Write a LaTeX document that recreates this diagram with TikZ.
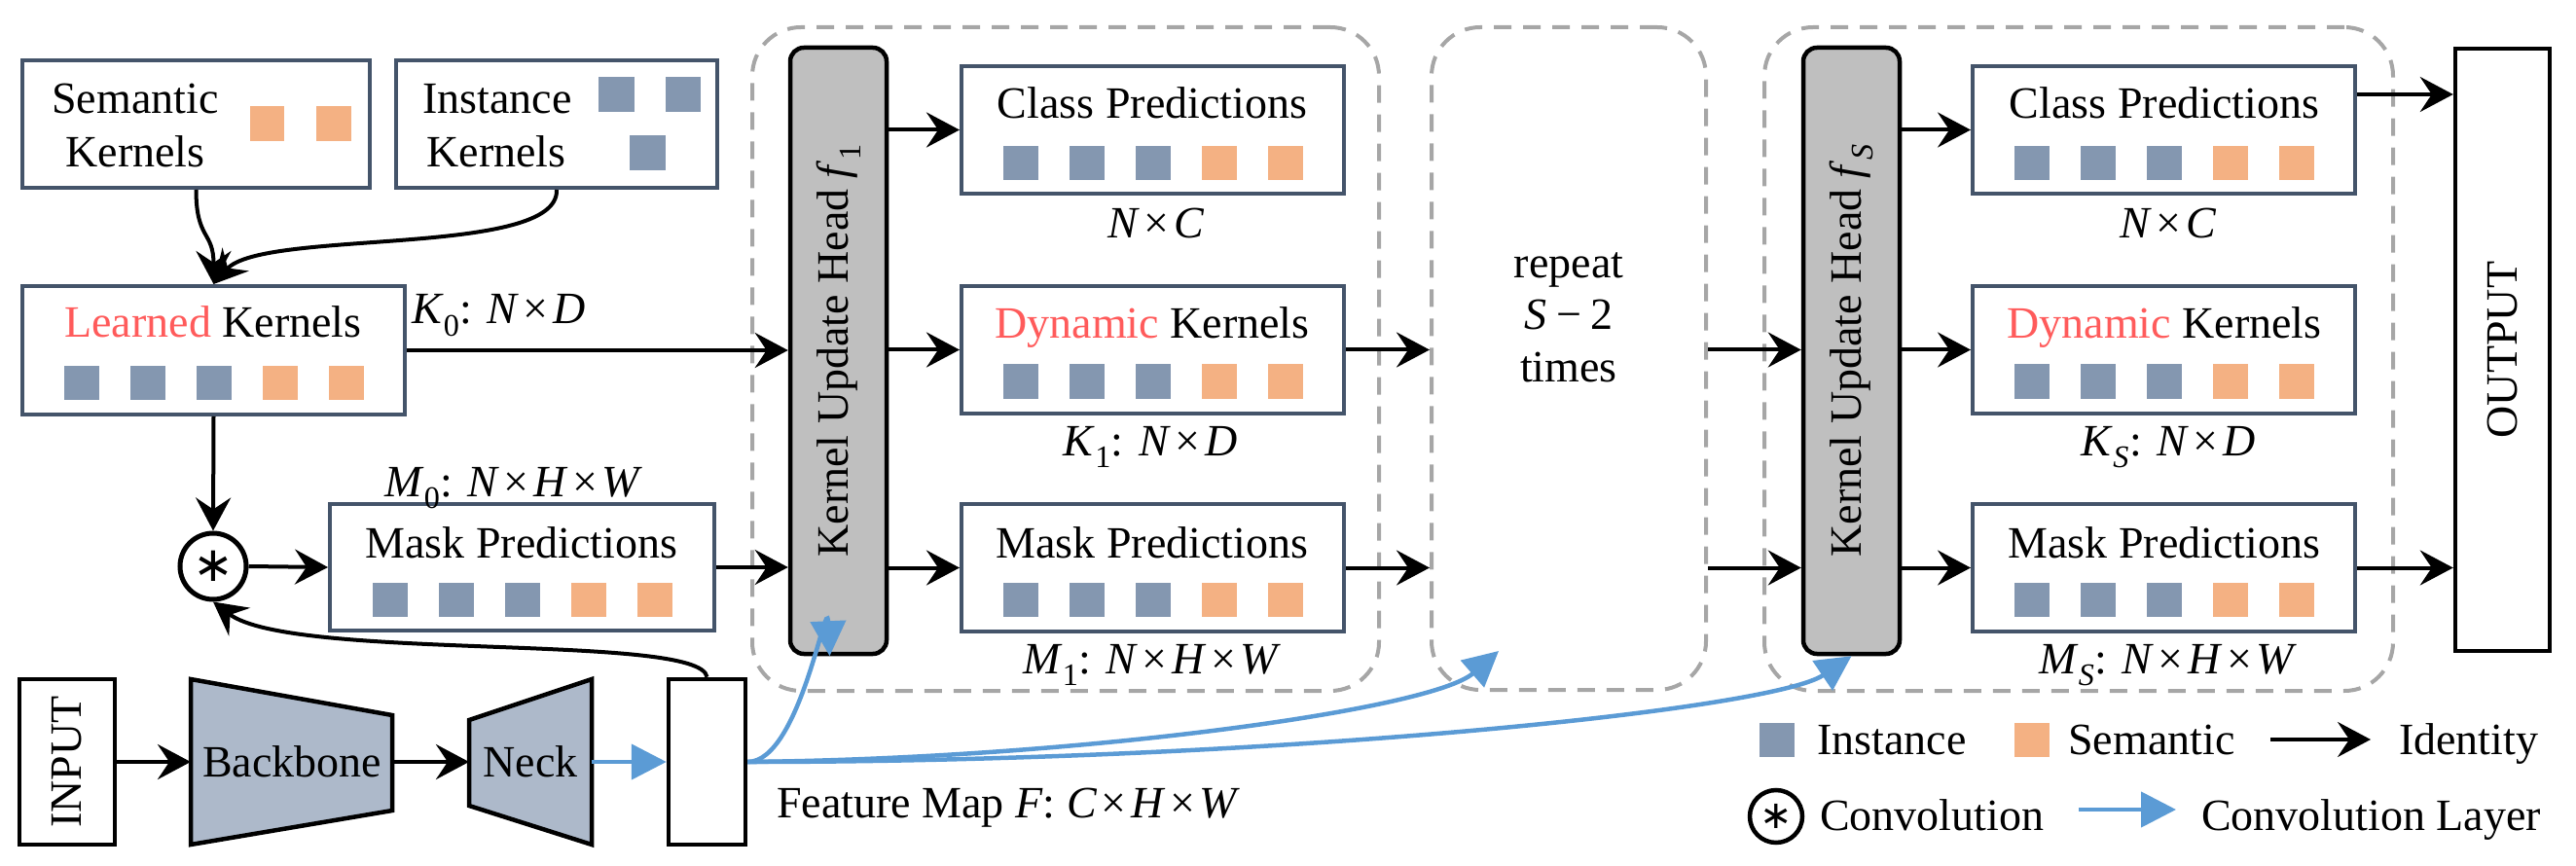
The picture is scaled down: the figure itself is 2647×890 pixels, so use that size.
\documentclass[tikz,border=0pt]{standalone}
\usepackage{fontspec}
\setmainfont{Liberation Serif}
\newfontfamily\djv{DejaVu Sans}
\usetikzlibrary{arrows.meta}
\definecolor{cslate}{HTML}{44546A}
\definecolor{cins}{HTML}{8497B0}
\definecolor{csem}{HTML}{F4B183}
\definecolor{cbb}{HTML}{ADB9CA}
\definecolor{chead}{HTML}{BFBFBF}
\definecolor{cdash}{HTML}{A6A6A6}
\definecolor{cblue}{HTML}{5B9BD5}
\definecolor{cred}{HTML}{FF5B5B}
\newcommand\fs{\fontsize{46}{55}\selectfont}
\newcommand\vi[1]{\textit{#1}}
\newcommand\tms{\hspace{0.1em}×\hspace{0.1em}}
\newcommand\fivesq[2]{\foreach \dx/\cc in {-136/cins,-68/cins,0/cins,68/csem,136/csem}{\fill[\cc] ({#1+\dx-18},{#2-17.5}) rectangle ++(36,35);}}
\begin{document}
\begin{tikzpicture}[x=1pt,y=-1pt,font=\fs,
  kb/.style={draw=cslate,line width=4pt,minimum width=393pt,minimum height=131pt,inner sep=0pt},
  hd/.style={draw=black,fill=chead,line width=4.5pt,rounded corners=14pt,minimum width=99pt,minimum height=623pt,inner sep=0pt},
  grp/.style={draw=cdash,line width=4pt,dash pattern=on 18pt off 12pt,rounded corners=50pt,inner sep=0pt},
  bx/.style={draw=black,line width=4.5pt,inner sep=0pt},
  txt/.style={inner sep=0pt,anchor=base},
  lt/.style={inner sep=0pt,anchor=base west},
  blk/.style={line width=4pt,-{Stealth[length=34pt,width=36pt,inset=12pt]}},
  blu/.style={line width=4.5pt,draw=cblue,-{Triangle[length=36pt,width=36pt]}},
  conv/.style={circle,draw=black,line width=5pt,inner sep=0pt},
]
\useasboundingbox (0,0) rectangle (2647,890);

% dashed groups
\node[grp,minimum width=644pt,minimum height=682pt] (g1) at (1095,369) {};
\node[grp,minimum width=282pt,minimum height=681pt] (rep) at (1612,368.5) {};
\node[grp,minimum width=646pt,minimum height=682pt] (gS) at (2136,369) {};

% kernel boxes
\node[kb,minimum width=357pt] (sem) at (201.5,127.5) {};
\node[txt] at (139,117) {Semantic};
\node[txt] at (139,172) {Kernels};
\fill[csem] (257,109) rectangle (292,145);
\fill[csem] (325,109) rectangle (361,145);

\node[kb,minimum width=330pt] (ins) at (572,127.5) {};
\node[txt] at (511,117) {Instance};
\node[txt] at (510,172) {Kernels};
\fill[cins] (615,79) rectangle (652,115);
\fill[cins] (684,79) rectangle (720,115);
\fill[cins] (647,139) rectangle (684,175);

\node[kb,minimum height=132pt] (lrn) at (219.5,360) {};
\node[txt] at (219,347) {\textcolor{cred}{Learned} Kernels};
\fivesq{219.5}{393.5}
\node[lt] at (423,333) {\vi{K}\textsubscript{0}: \vi{N}\tms\vi{D}};

\node[conv,minimum size=68pt] (cv) at (219,582) {\djv\fontsize{50}{50}\selectfont ∗};

\node[kb,minimum width=395pt,minimum height=130pt] (m0) at (536.5,583) {};
\node[txt] at (536,573) {Mask Predictions};
\fivesq{536.5}{616.5}
\node[txt] at (528,510) {\vi{M}\textsubscript{0}: \vi{N}\tms\vi{H}\tms\vi{W}};

% stage 1
\node[hd] (h1) at (861.5,360.5) {};
\node[rotate=90,inner sep=0pt] at (h1) {Kernel Update Head \vi{f}\textsubscript{1}};

\node[kb] (c1) at (1184.5,133.5) {};
\node[txt] at (1184,122) {Class Predictions};
\fivesq{1184.5}{167.5}
\node[txt] at (1188,245) {\vi{N}\tms\vi{C}};

\node[kb] (d1) at (1184.5,359.5) {};
\node[txt] at (1184,348) {\textcolor{cred}{Dynamic} Kernels};
\fivesq{1184.5}{392}
\node[txt] at (1182,468) {\vi{K}\textsubscript{1}: \vi{N}\tms\vi{D}};

\node[kb] (k1) at (1184.5,583.5) {};
\node[txt] at (1184,573) {Mask Predictions};
\fivesq{1184.5}{616.5}
\node[txt] at (1184,692) {\vi{M}\textsubscript{1}: \vi{N}\tms\vi{H}\tms\vi{W}};

% repeat
\node[txt] at (1612,286) {repeat};
\node[txt] at (1612,339) {\vi{S}\hspace{0.2em}−\hspace{0.2em}2};
\node[txt] at (1612,392) {times};

% stage S
\node[hd] (hS) at (1902.5,360.5) {};
\node[rotate=90,inner sep=0pt] at (hS) {Kernel Update Head \vi{f}\textsubscript{\vi{S}}};

\node[kb] (cS) at (2223.5,133.5) {};
\node[txt] at (2224,122) {Class Predictions};
\fivesq{2223.5}{167.5}
\node[txt] at (2228,245) {\vi{N}\tms\vi{C}};

\node[kb] (dS) at (2223.5,359.5) {};
\node[txt] at (2224,348) {\textcolor{cred}{Dynamic} Kernels};
\fivesq{2223.5}{392}
\node[txt] at (2228,468) {\vi{K}\textsubscript{\vi{S}}: \vi{N}\tms\vi{D}};

\node[kb] (kS) at (2223.5,583.5) {};
\node[txt] at (2224,573) {Mask Predictions};
\fivesq{2223.5}{616.5}
\node[txt] at (2228,692) {\vi{M}\textsubscript{\vi{S}}: \vi{N}\tms\vi{H}\tms\vi{W}};

\node[bx,minimum width=97pt,minimum height=619pt] (out) at (2571.5,359.5) {};
\node[rotate=90,inner sep=0pt] at (out) {OUTPUT};

% bottom pipeline
\node[bx,minimum width=98pt,minimum height=170pt] (inp) at (69,783) {};
\node[rotate=90,inner sep=0pt] at (inp) {INPUT};
\draw[fill=cbb,line width=4.5pt,line join=miter] (196,698) -- (403,735) -- (403,833) -- (196,868) -- cycle;
\node[txt] (bb) at (300,798) {Backbone};
\draw[fill=cbb,line width=4.5pt,line join=miter] (482,740) -- (608,698) -- (608,868) -- (482,828) -- cycle;
\node[txt] (nk) at (545,798) {Neck};
\coordinate (bbL) at (196,783);
\coordinate (bbR) at (403,783);
\coordinate (nkL) at (482,783);
\coordinate (nkR) at (608,783);
\node[bx,minimum width=79pt,minimum height=170pt] (fm) at (726.5,783) {};
\node[lt] at (798,840) {Feature Map \vi{F}: \vi{C}\tms\vi{H}\tms\vi{W}};

% black connectors
\draw[blk] (sem.south) .. controls +(0,52) and +(0,-55) .. (lrn.north);
\draw[blk] (ins.south) .. controls (575,265) and (270,235) .. (lrn.north);
\draw[blk] (lrn.east) -- (lrn.east -| h1.west);
\draw[blk] (lrn.south) -- (cv.north);
\draw[blk] (cv.east) -- (m0.west);
\draw[blk] (m0.east) -- (m0.east -| h1.west);
\draw[blk] (fm.north) .. controls (720,650) and (300,680) .. (cv.south);
\draw[blk] (h1.east |- c1.west) -- (c1.west);
\draw[blk] (h1.east |- d1.west) -- (d1.west);
\draw[blk] (h1.east |- k1.west) -- (k1.west);
\draw[blk] (d1.east) -- (d1.east -| rep.west);
\draw[blk] (k1.east) -- (k1.east -| rep.west);
\draw[blk] (rep.east |- d1.east) -- (d1.east -| hS.west);
\draw[blk] (rep.east |- k1.east) -- (k1.east -| hS.west);
\draw[blk] (hS.east |- cS.west) -- (cS.west);
\draw[blk] (hS.east |- dS.west) -- (dS.west);
\draw[blk] (hS.east |- kS.west) -- (kS.west);
\draw[blk] ([yshift=36.5pt]cS.east) -- ([yshift=36.5pt]cS.east -| out.west);
\draw[blk] (kS.east) -- (kS.east -| out.west);
\draw[blk] (inp.east) -- (bbL);
\draw[blk] (bbR) -- (nkL);

% blue connectors
\draw[blu] (nkR) -- (fm.west);
\draw[blu] (fm.east) .. controls +(54,0) and +(-3,-68) .. ([xshift=-9pt]h1.south);
\draw[blu] (fm.east) .. controls (1100,780) and (1470,730) .. ([xshift=-72pt,yshift=42pt]rep.south);
\draw[blu] (fm.east) .. controls (1300,783) and (1820,730) .. (hS.south);

% legend
\fill[cins] (1808,743) rectangle (1844,778);
\node[lt] at (1867,775) {Instance};
\fill[csem] (2070,743) rectangle (2106,778);
\node[lt] at (2125,775) {Semantic};
\coordinate (la1) at (2333,760);
\coordinate (la2) at (2436,760);
\draw[blk] (la1) -- (la2);
\node[lt] at (2465,775) {Identity};
\node[conv,line width=4.5pt,minimum size=54pt] (lcv) at (1825,839) {\djv\fontsize{40}{40}\selectfont ∗};
\node[lt] at (1870,853) {Convolution};
\coordinate (lb1) at (2136,832);
\coordinate (lb2) at (2236,832);
\draw[blu] (lb1) -- (lb2);
\node[lt] at (2262,853) {Convolution Layer};
\end{tikzpicture}
\end{document}
